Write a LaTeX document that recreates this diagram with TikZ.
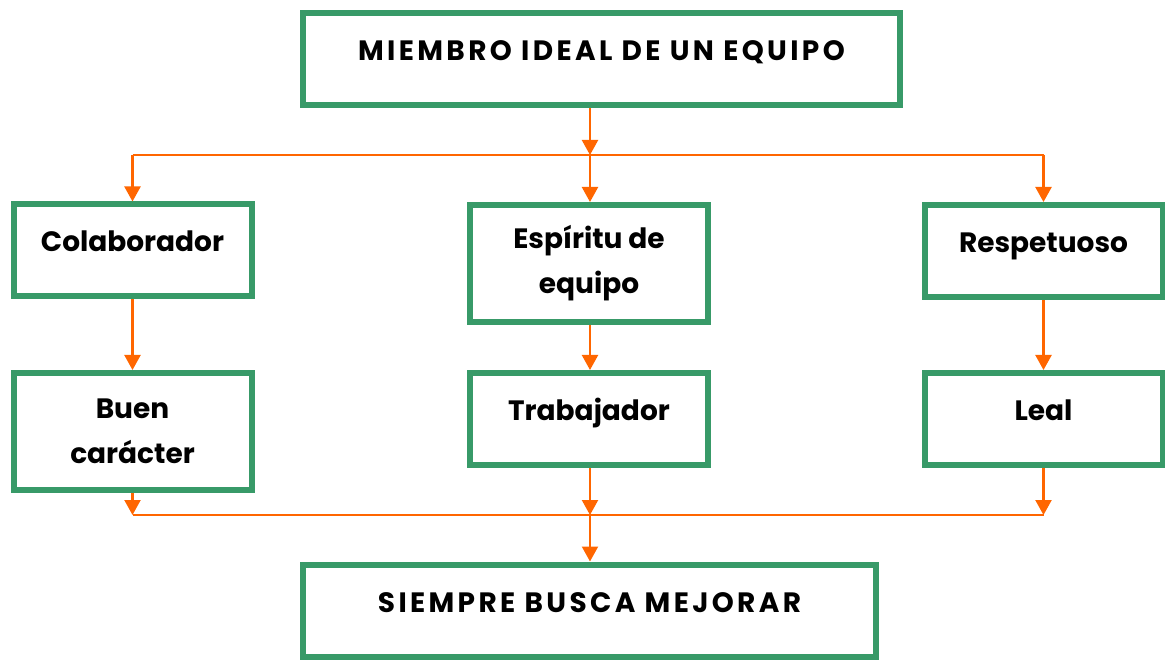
\documentclass[tikz,border=0pt]{standalone}
\usepackage{fontspec}
\setmainfont{Poppins}
\usetikzlibrary{arrows.meta}
\definecolor{boxgreen}{HTML}{389A68}
\definecolor{arroworange}{HTML}{FF6600}
\begin{document}
\begin{tikzpicture}[x=1pt,y=-1pt,
    box/.style={draw=boxgreen,line width=6pt,minimum width=238pt,minimum height=117pt,align=center,inner sep=0pt,font=\bfseries\fontsize{28}{45}\selectfont},
    onebox/.style={box,minimum height=92pt,text height=21pt,text depth=18pt},
    wide/.style={onebox,minimum width=#1,font=\bfseries\fontsize{28}{45}\selectfont\addfontfeature{LetterSpace=12}},
    link/.style={draw=arroworange,line width=2.2pt},
    arr/.style={link,-{Triangle[width=16pt,length=15pt]}}]
    \useasboundingbox (0,0) rectangle (1165,660);
    \node[wide=597pt] (top) at (601.5,59) {MIEMBRO IDEAL DE UN EQUIPO};
    \node[onebox] (cola) at (132.5,250.5) {Colaborador};
    \node[box] (esp) at (589,263.5) {Espíritu de\\equipo};
    \node[onebox] (resp) at (1043.5,251) {Respetuoso};
    \node[box] (buen) at (132.5,431.5) {Buen\\carácter};
    \node[onebox] (trab) at (589,419) {Trabajador};
    \node[onebox] (leal) at (1043.5,419) {Leal};
    \node[wide=573pt] (mejor) at (589.5,610.5) {SIEMPRE BUSCA MEJORAR};
    \coordinate (split) at (590,155);
    \coordinate (join) at (590,515);
    % upper branch
    \draw[arr] (top.south -| split) -- (split);
    \draw[link] (split -| cola) -- (split -| resp);
    \draw[arr] (split -| cola) -- (cola.north);
    \draw[arr] (split) -- (esp.north -| split);
    \draw[arr] (split -| resp) -- (resp.north);
    % columns
    \draw[arr] (cola) -- (buen);
    \draw[arr] (esp.south -| split) -- (trab.north -| split);
    \draw[arr] (resp) -- (leal);
    % lower branch
    \draw[arr] (buen.south) -- (join -| buen);
    \draw[arr] (trab.south -| join) -- (join);
    \draw[arr] (leal.south) -- (join -| leal);
    \draw[link] (join -| buen) -- (join -| leal);
    \draw[arr] (join) -- (mejor.north -| join);
\end{tikzpicture}
\end{document}
